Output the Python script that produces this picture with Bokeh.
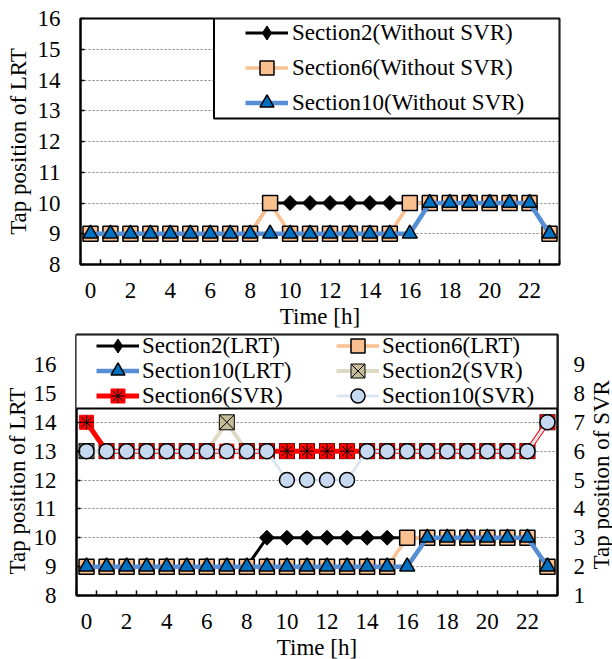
import math
from bokeh.plotting import figure
from bokeh.models import (ColumnDataSource, FixedTicker, Legend, LegendItem,
                          LinearAxis, Range1d, BoxAnnotation, Title)
from bokeh.layouts import column, row
from bokeh.embed import file_html
from bokeh.resources import INLINE

# ---------------- data ----------------
hours = [0, 1, 2, 3, 4, 5, 6, 7, 8, 9, 10, 11, 12, 13, 14, 15, 16, 17, 18, 19, 20, 21, 22, 23]
hour_tick_labels = [0, 2, 4, 6, 8, 10, 12, 14, 16, 18, 20, 22]
lrt_ticks = [8, 9, 10, 11, 12, 13, 14, 15, 16]
svr_ticks = [1, 2, 3, 4, 5, 6, 7, 8, 9]

# Top chart: without SVR (LRT tap)
sec2_without = [9, 9, 9, 9, 9, 9, 9, 9, 9, 10, 10, 10, 10, 10, 10, 10, 10, 10, 10, 10, 10, 10, 10, 9]
sec6_without = [9, 9, 9, 9, 9, 9, 9, 9, 9, 10, 9, 9, 9, 9, 9, 9, 10, 10, 10, 10, 10, 10, 10, 9]
sec10_without = [9, 9, 9, 9, 9, 9, 9, 9, 9, 9, 9, 9, 9, 9, 9, 9, 9, 10, 10, 10, 10, 10, 10, 9]

# Bottom chart: with SVR
sec2_lrt = [9, 9, 9, 9, 9, 9, 9, 9, 9, 10, 10, 10, 10, 10, 10, 10, 10, 10, 10, 10, 10, 10, 10, 9]
sec6_lrt = [9, 9, 9, 9, 9, 9, 9, 9, 9, 9, 9, 9, 9, 9, 9, 9, 10, 10, 10, 10, 10, 10, 10, 9]
sec10_lrt = [9, 9, 9, 9, 9, 9, 9, 9, 9, 9, 9, 9, 9, 9, 9, 9, 9, 10, 10, 10, 10, 10, 10, 9]
sec2_svr = [6, 6, 6, 6, 6, 6, 6, 7, 6, 6, 6, 6, 6, 6, 6, 6, 6, 6, 6, 6, 6, 6, 6, 7]
sec6_svr = [7, 6, 6, 6, 6, 6, 6, 6, 6, 6, 6, 6, 6, 6, 6, 6, 6, 6, 6, 6, 6, 6, 6, 7]
sec10_svr = [6, 6, 6, 6, 6, 6, 6, 6, 6, 6, 5, 5, 5, 5, 6, 6, 6, 6, 6, 6, 6, 6, 6, 7]

# ---------------- styles ----------------
FONT = "Liberation Serif"
FS = "23px"
BLACK = "black"
PEACH = "#FAC090"
BLUE_FILL = "#0070C0"
BLUE_LINE = "#558ED5"
KHAKI_LINE = "#DDD9C4"
KHAKI_FILL = "#C4BD97"
RED = "#FF0000"
LBLUE_LINE = "#DCE6F2"
LBLUE_FILL = "#C6D9F1"

minor_positions = [h - 0.5 for h in hours] + [23.5]


def style_text(ax):
    ax.major_label_text_font = FONT
    ax.major_label_text_font_size = FS
    ax.major_label_text_color = "black"
    ax.axis_label_text_font = FONT
    ax.axis_label_text_font_size = FS
    ax.axis_label_text_font_style = "normal"
    ax.axis_label_text_color = "black"


def style_common(p, ylabel):
    p.background_fill_color = "white"
    p.border_fill_color = "white"
    p.outline_line_color = "black"
    p.outline_line_width = 2
    p.outline_line_alpha = 1
    p.xgrid.visible = False
    p.ygrid.grid_line_color = "#808080"
    p.ygrid.grid_line_dash = "2 2"
    p.ygrid.grid_line_width = 1

    xa = p.xaxis[0]
    xa.ticker = FixedTicker(ticks=hour_tick_labels, minor_ticks=minor_positions)
    xa.major_tick_in = 0
    xa.major_tick_out = 0
    xa.minor_tick_in = 5
    xa.minor_tick_out = 0
    xa.minor_tick_line_color = "black"
    xa.minor_tick_line_width = 1.5
    xa.axis_line_color = "black"
    xa.axis_line_width = 2
    xa.major_label_standoff = 18
    xa.axis_label = "Time [h]"
    xa.axis_label_standoff = 3

    ya = p.yaxis[0]
    ya.ticker = FixedTicker(ticks=lrt_ticks)
    ya.major_tick_in = 4
    ya.major_tick_out = 0
    ya.major_tick_line_width = 1.5
    ya.minor_tick_line_color = None
    ya.axis_line_color = "black"
    ya.axis_line_width = 2
    ya.major_label_standoff = 20
    if ylabel:
        ya.axis_label = ylabel
        ya.axis_label_standoff = 4

    style_text(xa)
    style_text(ya)


def side_title(text, offset, standoff, valign="bottom"):
    return Title(text=text, align="left", offset=offset, standoff=standoff,
                 vertical_align=valign,
                 text_font=FONT, text_font_size=FS, text_font_style="normal",
                 text_color="black")


def add_series(p, src, col, line_color, line_width, marker, size, fill, mline, mlw,
               y_range_name="default", extra=None, diamond=False):
    rl = p.line("h", col, source=src, line_color=line_color, line_width=line_width,
                y_range_name=y_range_name)
    if diamond:
        # a square turned by 45 degrees looks like the reference's diamond
        p.scatter("h", col, source=src, marker="square", size=size, angle=math.pi / 4,
                  fill_color=fill, line_color=mline, line_width=mlw,
                  y_range_name=y_range_name)
        # the legend does not turn markers: a hidden diamond renderer serves the legend
        rleg = p.scatter("h", col, source=src, marker="diamond", size=size,
                         fill_color=fill, line_color=mline, line_width=mlw,
                         y_range_name=y_range_name, visible=False)
        return [rl, rleg]
    rm = p.scatter("h", col, source=src, marker=marker, size=size, fill_color=fill,
                   line_color=mline, line_width=mlw, y_range_name=y_range_name)
    rs = [rl, rm]
    if extra is not None:
        rx = p.scatter("h", col, source=src, marker=extra, size=size, fill_color=None,
                       line_color="black", line_width=1, y_range_name=y_range_name)
        rs.append(rx)
    return rs


def legend(items, loc, label_height, standoff):
    return Legend(items=items, location=loc, padding=0, spacing=0, margin=0,
                  glyph_width=43, glyph_height=35, label_height=label_height,
                  label_standoff=standoff, label_text_font=FONT,
                  label_text_font_size=FS, label_text_color="black",
                  border_line_alpha=0, background_fill_alpha=0,
                  inactive_fill_alpha=0, click_policy="none")


def frame_box(l, r, t, b):
    return BoxAnnotation(left=l, right=r, top=t, bottom=b,
                         left_units="canvas", right_units="canvas",
                         top_units="canvas", bottom_units="canvas",
                         fill_color="white", fill_alpha=1,
                         line_color="black", line_width=2, line_alpha=1)


# ---------------- top chart ----------------
p1 = figure(frame_width=479, frame_height=246, min_border_left=80, min_border_right=53,
            min_border_top=18, min_border_bottom=66,
            x_range=Range1d(-0.5, 23.5), y_range=Range1d(8, 16),
            output_backend="svg", toolbar_location=None)
style_common(p1, "Tap position of LRT")

src1 = ColumnDataSource(dict(h=hours, s2=sec2_without, s6=sec6_without, s10=sec10_without))
t2 = add_series(p1, src1, "s2", BLACK, 3, None, 10.5, BLACK, BLACK, 1, diamond=True)
t6 = add_series(p1, src1, "s6", PEACH, 3.5, "square", 15, PEACH, BLACK, 1.5)
t10 = add_series(p1, src1, "s10", BLUE_LINE, 4.5, "triangle", 15, BLUE_FILL, BLACK, 1.5)

p1.add_layout(frame_box(213.5, 559, 18, 118))
p1.add_layout(legend([
    LegendItem(label="Section2(Without SVR)", renderers=t2),
    LegendItem(label="Section6(Without SVR)", renderers=t6),
    LegendItem(label="Section10(Without SVR)", renderers=t10),
], (165, 144), 35, 4))

# ---------------- bottom chart ----------------
# frame reaches a little above tap 16 so the legend (which overlaps the top) is not clipped
p2 = figure(frame_width=481, frame_height=261, min_border_left=76, min_border_right=28,
            min_border_top=3, min_border_bottom=65,
            x_range=Range1d(-0.5, 23.5), y_range=Range1d(8, 17.04),
            output_backend="svg", toolbar_location=None)
p2.extra_y_ranges = {"svr": Range1d(1, 10.04)}
style_common(p2, None)
p2.add_layout(side_title("Tap position of LRT", 21, 2), "left")

ra = LinearAxis(y_range_name="svr", ticker=FixedTicker(ticks=svr_ticks))
ra.major_tick_in = 0
ra.major_tick_out = 0
ra.minor_tick_line_color = None
ra.axis_line_color = "black"
ra.axis_line_width = 2
ra.major_label_standoff = 16
style_text(ra)
p2.add_layout(ra, "right")

src2 = ColumnDataSource(dict(h=hours, l2=sec2_lrt, l6=sec6_lrt, l10=sec10_lrt,
                             v2=sec2_svr, v6=sec6_svr, v10=sec10_svr))
b2 = add_series(p2, src2, "l2", BLACK, 3, None, 10.5, BLACK, BLACK, 1, diamond=True)
b6 = add_series(p2, src2, "l6", PEACH, 3.5, "square", 15, PEACH, BLACK, 1.5)
b10 = add_series(p2, src2, "l10", BLUE_LINE, 4.5, "triangle", 15, BLUE_FILL, BLACK, 1.5)
v2 = add_series(p2, src2, "v2", KHAKI_LINE, 4, "square_x", 15, KHAKI_FILL, BLACK, 1,
                y_range_name="svr")
v6 = add_series(p2, src2, "v6", RED, 5, "square", 14, RED, RED, 1,
                y_range_name="svr", extra="asterisk")
v10 = add_series(p2, src2, "v10", LBLUE_LINE, 3, "circle", 15, LBLUE_FILL, BLACK, 1.5,
                 y_range_name="svr")

p2.add_layout(frame_box(73.5, 557, 3, 77))
legend_rows = [
    ("Section2(LRT)", b2, "Section6(LRT)", b6, 232),
    ("Section10(LRT)", b10, "Section2(SVR)", v2, 207),
    ("Section6(SVR)", v6, "Section10(SVR)", v10, 182),
]
for lab_a, ren_a, lab_b, ren_b, vy in legend_rows:
    p2.add_layout(legend([LegendItem(label=lab_a, renderers=ren_a)], (20, vy), 25, 3))
    p2.add_layout(legend([LegendItem(label=lab_b, renderers=ren_b)], (260, vy), 25, 3))

# right-hand axis title (reads bottom to top, as in the reference)
p_lab = figure(width=27, height=329, min_border_left=0, min_border_right=0,
               min_border_top=3, min_border_bottom=65,
               x_range=Range1d(0, 1), y_range=Range1d(0, 1),
               x_axis_location=None, y_axis_location=None,
               output_backend="svg", toolbar_location=None)
p_lab.outline_line_color = None
p_lab.background_fill_color = "white"
p_lab.border_fill_color = "white"
p_lab.xgrid.visible = False
p_lab.ygrid.visible = False
p_lab.add_layout(side_title("Tap position of SVR", 24, 0, "top"), "left")

layout = column(p1, row(p2, p_lab, spacing=0), spacing=0)
open("out.html", "w").write(file_html(layout, INLINE))
